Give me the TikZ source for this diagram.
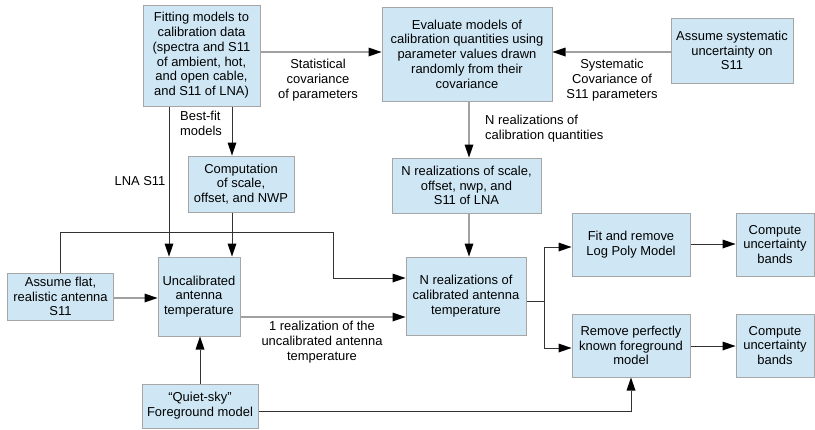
\documentclass[tikz,border=0pt]{standalone}
\usepackage{fontspec}
\setmainfont{Liberation Sans}
\usetikzlibrary{arrows.meta}
\definecolor{boxfill}{HTML}{CFE7F5}
\definecolor{boxline}{HTML}{A6A6A6}
\definecolor{gline}{HTML}{A0A0A0}
\definecolor{dline}{HTML}{333333}
\tikzset{
  box/.style={draw=boxline, fill=boxfill, line width=1bp, align=center, inner sep=0pt, font=\fontsize{13}{14.8}\selectfont},
  lbl/.style={align=center, inner sep=0pt, font=\fontsize{13}{14.8}\selectfont},
  tip/.style={-{Triangle[length=13bp,width=9bp,color=black,line width=0pt]}},
  garrow/.style={tip, draw=gline, line width=1.4bp},
  darrow/.style={tip, draw=dline, line width=0.9bp},
  dline/.style={draw=dline, line width=0.9bp},
}
\begin{document}
\begin{tikzpicture}[x=1bp,y=-1bp]
\useasboundingbox (0,0) rectangle (815,429);
% boxes
\node[box, minimum width=117bp, minimum height=101bp] (fit) at (201.5,55.5) {Fitting models to\\calibration data\\(spectra and S11\\of ambient, hot,\\and open cable,\\and S11 of LNA)};
\node[box, minimum width=170bp, minimum height=94bp] (eval) at (467,54) {Evaluate models of\\calibration quantities using\\parameter values drawn\\randomly from their\\covariance};
\node[box, minimum width=122bp, minimum height=65bp] (sys) at (732,50.5) {Assume systematic\\uncertainty on\\S11};
\node[box, minimum width=106bp, minimum height=56bp] (comp) at (241,184) {Computation\\of scale,\\offset, and NWP};
\node[box, minimum width=149bp, minimum height=55bp] (nscale) at (466.5,185.5) {N realizations of scale,\\offset, nwp, and\\S11 of LNA};
\node[box, minimum width=105bp, minimum height=47bp] (flat) at (60.5,296.5) {Assume flat,\\realistic antenna\\S11};
\node[box, minimum width=82bp, minimum height=79bp] (uncal) at (199,296.5) {Uncalibrated\\antenna\\temperature};
\node[box, minimum width=116bp, minimum height=44bp] (quiet) at (200,406) {“Quiet-sky”\\Foreground model};
\node[box, minimum width=120bp, minimum height=78bp] (ncal) at (466,296) {N realizations of\\calibrated antenna\\temperature};
\node[box, minimum width=118bp, minimum height=63bp] (fitlog) at (631,244.5) {Fit and remove\\Log Poly Model};
\node[box, minimum width=78bp, minimum height=63bp] (comp1) at (775,244.5) {Compute\\uncertainty\\bands};
\node[box, minimum width=118bp, minimum height=63bp] (remove) at (631,345.5) {Remove perfectly\\known foreground\\model};
\node[box, minimum width=78bp, minimum height=63bp] (comp2) at (775,345.5) {Compute\\uncertainty\\bands};
% labels
\node[lbl] (l1) at (318,80) {Statistical\\covariance\\of parameters};
\node[lbl] (l2) at (612,80) {Systematic\\Covariance of\\S11 parameters};
\node[lbl, align=left, anchor=west] (l3) at (485,129) {N realizations of\\calibration quantities};
\node[lbl, align=left, anchor=west] (l4) at (180,123) {Best-fit\\models};
\node[lbl] (l5) at (140,181) {LNA S11};
\node[lbl] (l6) at (322,342) {1 realization of the\\uncalibrated antenna\\temperature};
% connectors
\draw[garrow] (fit.east |- 0,52) -- (eval.west |- 0,52);
\draw[garrow] (sys.west |- 0,52) -- (eval.east |- 0,52);
\draw[garrow] (eval.south -| 469,0) -- (nscale.north -| 469,0);
\draw[garrow] (nscale.south -| 469,0) -- (ncal.north -| 469,0);
\draw[darrow] (fit.south -| 232,0) -- (comp.north -| 232,0);
\draw[darrow] (fit.south -| 169,0) -- (uncal.north -| 169,0);
\draw[darrow] (comp.south -| 232,0) -- (uncal.north -| 232,0);
\draw[garrow] (flat.east |- 0,298) -- (uncal.west |- 0,298);
\draw[darrow] (flat.north) |- (333,232) |- (ncal.west |- 0,278);
\draw[garrow] (uncal.east |- 0,317) -- (ncal.west |- 0,317);
\draw[darrow] (quiet.north) -- (quiet.north |- uncal.south);
\draw[darrow] (quiet.east |- 0,411) -| (remove.south);
\coordinate (split) at (544,301);
\draw[dline] (ncal.east |- split) -- (split);
\draw[darrow] (split) |- (fitlog.west |- 0,247);
\draw[darrow] (split) |- (remove.west |- 0,348);
\draw[darrow] (fitlog.east |- 0,244) -- (comp1.west |- 0,244);
\draw[darrow] (remove.east |- 0,346) -- (comp2.west |- 0,346);
\end{tikzpicture}
\end{document}
